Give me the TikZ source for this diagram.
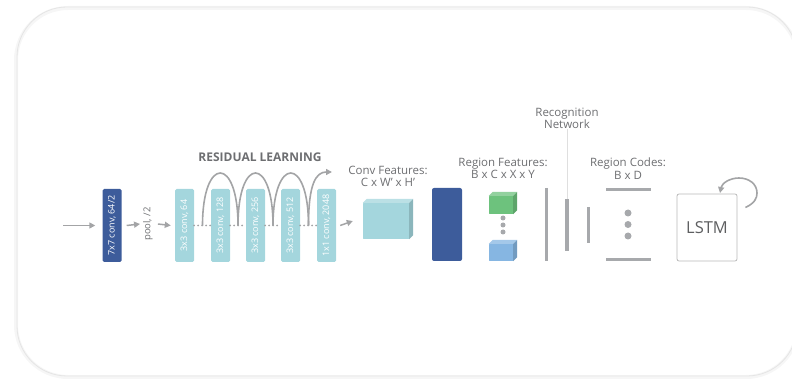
\documentclass[tikz,border=0pt]{standalone}
\usepackage{fontspec}
\setmainfont{Open Sans}
\usetikzlibrary{arrows.meta,calc,positioning}

\definecolor{deepblue}{HTML}{3D5C9B}
\definecolor{paleteal}{HTML}{A4D6DD}
\definecolor{leafgreen}{HTML}{6DC27D}
\definecolor{skyblue}{HTML}{86B6E2}
\definecolor{bargray}{HTML}{A7A9AC}
\definecolor{labelgray}{HTML}{6D6E71}
\definecolor{arrowgray}{HTML}{A3A4A6}

\begin{document}
\begin{tikzpicture}[x=1pt,y=-1pt,
    lbl/.style={text=labelgray,font=\fontsize{11.5}{12.5}\selectfont,align=center,inner sep=0pt},
    flow/.style={-{Triangle[length=6pt,width=6pt]},draw=arrowgray,line width=1.5pt},
    layer/.style={rotate=90,rounded corners=1.5pt,inner sep=0pt,minimum width=73pt,minimum height=19pt,
      fill=paleteal,text=white,font=\fontsize{9}{10}\selectfont},
    cubeface/.style={inner sep=0pt,rounded corners=0.5pt},
    bar/.style={draw=bargray,line width=3pt}]
  \useasboundingbox (0,0) rectangle (792,379);
  % Card behind everything
  \draw[gray!7,line width=4pt,rounded corners=52pt] (16,8) rectangle (798,377);
  \draw[gray!20,line width=0.8pt,rounded corners=50pt] (17,7) rectangle (797,376);

  % CNN trunk
  \coordinate (in) at (63,225.5);
  \node[layer,fill=deepblue] (c7) at (112,225.5) {7x7 conv, 64/2};
  \node[lbl,rotate=90,font=\fontsize{9.5}{11}\selectfont,inner sep=2pt] (pool) at (148,224) {pool, /2};
  \node[layer] (r1) at (184.5,225.5) {3x3 conv, 64};
  \node[layer] (r2) at (220.5,225.5) {3x3 conv, 128};
  \node[layer] (r3) at (255.5,225.5) {3x3 conv, 256};
  \node[layer] (r4) at (290.5,225.5) {3x3 conv, 512};
  \node[layer] (r5) at (326.5,225.5) {1x1 conv, 2048};
  \draw[flow] (in) -- ([xshift=-7]c7.north);
  \draw[flow] ([xshift=5]c7.south) -- ([xshift=-1]pool.north);
  \draw[flow] ([xshift=3]pool.south) -- ([xshift=-4]r1.north);

  % Residual skips
  \foreach \a/\b [count=\i] in {r1/r2,r2/r3,r3/r4,r4/r5} {
    \draw[arrowgray,line width=2pt,line cap=round,dash pattern=on 0pt off 4pt] (\a.south) -- (\b.north);
    \coordinate (j\i) at ($(\a.south)!0.5!(\b.north)$);
  }
  \foreach \a/\b in {j1/j2,j2/j3,j3/j4}
    \draw[arrowgray,line width=1.6pt] (\a) .. controls ($(\a)+(0,-70)$) and ($(\b)+(0,-70)$) .. (\b);
  \coordinate (jout) at (332,172);
  \draw[flow,line width=1.6pt] (j4) .. controls ($(j4)+(0,-42)$) and ($(jout)+(-16,0)$) .. (jout);
  \node[lbl,font=\bfseries\fontsize{12}{13}\selectfont] (res) at (260,157) {RESIDUAL LEARNING};

  % Conv features
  \node[cubeface,fill=paleteal,minimum width=46pt,minimum height=36pt] (feat) at (386,221) {};
  \draw[flow] ([xshift=4]r5.south) -- ([xshift=-10]feat.west);
  \node[lbl] (featlbl) at (388,176.5) {Conv Features:\\C x W’ x H’};

  % Region features
  \node[fill=deepblue,rounded corners=2pt,minimum width=30pt,minimum height=73pt,inner sep=0pt] (roi) at (447,224.5) {};
  \node[cubeface,fill=leafgreen,minimum width=24pt,minimum height=18pt] (gfeat) at (501,205) {};
  \node[cubeface,fill=skyblue,minimum width=24pt,minimum height=17pt] (bfeat) at (501,252.5) {};
  \foreach \c/\col in {feat/paleteal,gfeat/leafgreen,bfeat/skyblue} {
    \fill[\col!75!white] (\c.north west) -- ++(4,-4) -- ([shift={(4,-4)}]\c.north east) -- (\c.north east) -- cycle;
    \fill[\col!85!black] (\c.north east) -- ++(4,-4) -- ([shift={(4,-4)}]\c.south east) -- (\c.south east) -- cycle;
  }
  \foreach \y in {218,225,232}
    \fill[bargray] (503,\y) circle (2.5);
  \node[lbl] (roilbl) at (503,168.5) {Region Features:\\B x C x X x Y};

  % Recognition network
  \draw[bar] (546,188) -- (546,261);
  \draw[bar,line width=3.5pt] (567,199) -- (567,251);
  \draw[bar] (588,207) -- (588,243);
  \node[lbl] (recog) at (567,118.5) {Recognition\\Network};
  \draw[gray!25,line width=0.6pt] (recog.south) -- (567,199);

  % Region codes
  \draw[bar] (606,190) -- (651,190);
  \draw[bar] (606,260) -- (651,260);
  \foreach \y in {213,224.5,236}
    \fill[bargray] (628,\y) circle (3.5);
  \node[lbl] (codelbl) at (628,168.5) {Region Codes:\\B x D};

  % LSTM
  \node[draw=gray!55,line width=0.8pt,rounded corners=2pt,minimum width=60pt,minimum height=67pt,inner sep=0pt,
    text=labelgray!85!black,font=\fontsize{16.5}{18}\selectfont] (lstm) at (707,227.5) {LSTM};
  \coordinate (loop) at ([shift={(8,-20)}]lstm.east);
  \draw[flow,line width=1.6pt]
    (loop) .. controls (755,203) and (757,198) .. (757,193)
    .. controls (757,184) and (749,178) .. (739,178)
    .. controls (730,178) and (722,183) .. (720,193);
\end{tikzpicture}
\end{document}
